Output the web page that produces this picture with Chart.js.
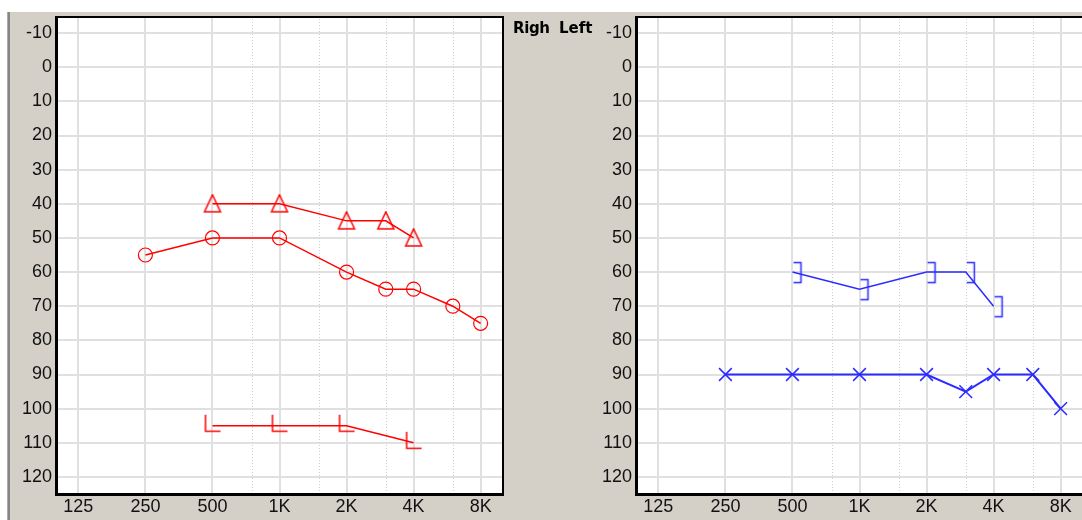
<!DOCTYPE html>
<html>
<head>
<meta charset="utf-8">
<script src="https://cdn.jsdelivr.net/npm/chart.js@4/dist/chart.umd.min.js"></script>
<style>
  body { margin: 0; width: 1082px; height: 520px; background: #d4d0c8; overflow: hidden; position: relative; }
  .band { position: absolute; }
  #topband { left: 0; top: 0; width: 1082px; height: 12px; background: #fff; }
  #leftband { left: 0; top: 0; width: 7px; height: 520px; background: #fff; }
  #edge1 { left: 7px; top: 12px; width: 1px; height: 508px; background: #ababab; }
  #edge2 { left: 8px; top: 12px; width: 2px; height: 508px; background: #858585; }
  .panel { position: absolute; top: 0; width: 520px; height: 520px; }
  #earLabels { position: absolute; left: 513px; top: 19px; font: bold 15px "DejaVu Sans", sans-serif; color: #000; white-space: nowrap; }
  #earLabels span { display: inline-block; }
</style>
</head>
<body>
<div class="band" id="topband"></div>
<div class="band" id="leftband"></div>
<div class="band" id="edge1"></div>
<div class="band" id="edge2"></div>
<div class="panel" style="left:0px"><canvas id="rightEar" width="520" height="520"></canvas></div>
<div class="panel" style="left:580px"><canvas id="leftEar" width="520" height="520"></canvas></div>
<div id="earLabels"><span style="width:46px;letter-spacing:-0.4px">Righ</span><span>Left</span></div>
<script>
// ejes
const freqTicks = [125, 250, 500, 1000, 2000, 4000, 8000];
const freqLabels = ['125', '250', '500', '1K', '2K', '4K', '8K'];
const midFreqs = [750, 1500, 3000, 6000];
const dbTicks = [-10, 0, 10, 20, 30, 40, 50, 60, 70, 80, 90, 100, 110, 120];

// oido derecho (rojo)
const freqRightAC = [250, 500, 1000, 2000, 3000, 4000, 6000, 8000];
const rightAC = [55, 50, 50, 60, 65, 65, 70, 75];
const freqRightMasked = [500, 1000, 2000, 3000, 4000];
const rightMasked = [40, 40, 45, 45, 50];
const freqRightBC = [500, 1000, 2000, 4000];
const rightBC = [105, 105, 105, 110];

// oido izquierdo (azul)
const freqLeftAC = [250, 500, 1000, 2000, 3000, 4000, 6000, 8000];
const leftAC = [90, 90, 90, 90, 95, 90, 90, 100];
const freqLeftBC = [500, 1000, 2000, 3000, 4000];
const leftBC = [60, 65, 60, 60, 70];

const RED = '#ff0000';
const BLUE = '#2b2bff';
const xMin = 125 * Math.pow(2, -1 / 3);
const xMax = 8000 * Math.pow(2, 1 / 3);
const tickFont = { family: '"Liberation Sans Narrow", "Liberation Sans", sans-serif', size: 18 };

function simbolo(w, h, color, dibujar) {
    const c = document.createElement('canvas');
    c.width = w; c.height = h;
    const g = c.getContext('2d');
    g.strokeStyle = color;
    g.lineWidth = 1.5;
    g.beginPath();
    dibujar(g);
    g.stroke();
    return c;
}

const triangulo = simbolo(20, 20, RED, g => {
    g.moveTo(10, 1); g.lineTo(18, 18); g.lineTo(2, 18); g.closePath();
});
const eleRoja = simbolo(30, 30, RED, g => {
    g.moveTo(8, 4); g.lineTo(8, 20.5); g.lineTo(23, 20.5);
});
const corchete = simbolo(30, 30, BLUE, g => {
    g.moveTo(16, 5.5); g.lineTo(23.5, 5.5); g.lineTo(23.5, 25.5); g.lineTo(16, 25.5);
});

function puntos(freqs, vals) {
    return freqs.map((f, i) => ({ x: f, y: vals[i] }));
}

const fondo = {
    id: 'fondo',
    beforeDraw(chart) {
        const { ctx, chartArea: a } = chart;
        ctx.save();
        ctx.fillStyle = '#ffffff';
        ctx.fillRect(a.left, a.top, a.right - a.left, a.bottom - a.top);
        ctx.restore();
    },
    beforeDatasetsDraw(chart) {
        const { ctx, chartArea: a, scales: { x } } = chart;
        ctx.save();
        ctx.strokeStyle = '#cfcfcf';
        ctx.lineWidth = 1;
        ctx.setLineDash([1, 2]);
        midFreqs.forEach(f => {
            const px = Math.round(x.getPixelForValue(f)) + 0.5;
            ctx.beginPath();
            ctx.moveTo(px, a.top);
            ctx.lineTo(px, a.bottom);
            ctx.stroke();
        });
        ctx.restore();
    },
    afterDraw(chart) {
        const { ctx, chartArea: a } = chart;
        ctx.save();
        ctx.fillStyle = '#000';
        ctx.fillRect(a.left - 1, a.top, 3, a.bottom - a.top + 2);
        ctx.fillRect(a.left - 1, a.top, a.right - a.left + 1, 2);
        ctx.fillRect(a.right - 1, a.top, 2, a.bottom - a.top + 2);
        ctx.fillRect(a.left - 1, a.bottom - 1, a.right - a.left + 1, 3);
        ctx.restore();
    }
};

function ejes() {
    return {
        x: {
            type: 'logarithmic',
            min: xMin,
            max: xMax,
            afterBuildTicks: s => { s.ticks = freqTicks.map(v => ({ value: v })); },
            afterFit: s => { s.height = 26; },
            ticks: {
                autoSkip: false, maxRotation: 0, padding: 2, color: '#111', font: tickFont,
                callback: (v, i) => freqLabels[i]
            },
            grid: { color: '#e0e0e0', lineWidth: 2, drawTicks: false },
            border: { display: false }
        },
        y: {
            reverse: true,
            min: -15,
            max: 125,
            afterBuildTicks: s => { s.ticks = dbTicks.map(v => ({ value: v })); },
            afterFit: s => { s.width = 56; },
            ticks: { padding: 4, color: '#111', font: tickFont, callback: v => String(v) },
            grid: { color: '#e0e0e0', lineWidth: 2, drawTicks: false },
            border: { display: false }
        }
    };
}

function panel(id, datasets) {
    return new Chart(document.getElementById(id), {
        type: 'line',
        data: { datasets: datasets },
        options: {
            responsive: false,
            animation: false,
            layout: { padding: { top: 16, right: 17, left: 0, bottom: 0 } },
            plugins: { legend: { display: false }, tooltip: { enabled: false } },
            scales: ejes()
        },
        plugins: [fondo]
    });
}

panel('rightEar', [
    {
        data: puntos(freqRightMasked, rightMasked),
        borderColor: RED, borderWidth: 1.5,
        pointStyle: triangulo, pointRadius: 9
    },
    {
        data: puntos(freqRightAC, rightAC),
        borderColor: RED, borderWidth: 1.5,
        pointStyle: 'circle', pointRadius: 7, pointBorderWidth: 1.2,
        pointBackgroundColor: 'rgba(0,0,0,0)', pointBorderColor: RED
    },
    {
        data: puntos(freqRightBC, rightBC),
        borderColor: RED, borderWidth: 1.5,
        pointStyle: eleRoja, pointRadius: 9
    }
]);

panel('leftEar', [
    {
        data: puntos(freqLeftBC, leftBC),
        borderColor: BLUE, borderWidth: 1.5,
        pointStyle: corchete, pointRadius: 9
    },
    {
        data: puntos(freqLeftAC, leftAC),
        borderColor: BLUE, borderWidth: 2,
        pointStyle: 'crossRot', pointRadius: 9, pointBorderWidth: 1.5,
        pointBorderColor: BLUE
    }
]);
</script>
</body>
</html>
